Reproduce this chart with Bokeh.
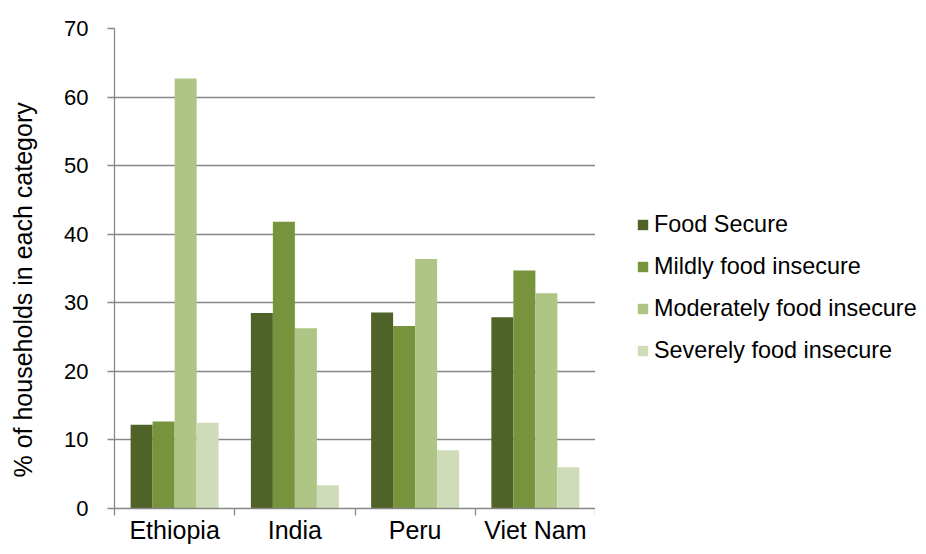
import math
from bokeh.plotting import figure
from bokeh.layouts import row
from bokeh.models import (ColumnDataSource, Range1d, FixedTicker, Legend,
                          LegendItem, Label)
from bokeh.transform import dodge
from bokeh.embed import file_html
from bokeh.resources import INLINE

countries = ["Ethiopia", "India", "Peru", "Viet Nam"]
series_names = ["Food Secure", "Mildly food insecure",
                "Moderately food insecure", "Severely food insecure"]
food_secure = [12.2, 28.5, 28.6, 27.9]
mildly = [12.7, 41.8, 26.6, 34.7]
moderately = [62.7, 26.3, 36.4, 31.4]
severely = [12.5, 3.4, 8.5, 6.0]
y_ticks = [0, 10, 20, 30, 40, 50, 60, 70]
y_title = "% of households in each category"

colors = ["#4F6228", "#77933C", "#AEC585", "#CFDCB9"]
FONT = "Liberation Sans"
GRID = "#878787"
H = 546
TW = 44  # width of the y-title strip

centers = [i + 0.5 for i in range(len(countries))]
source = ColumnDataSource(dict(x=centers, fs=food_secure, mi=mildly,
                               mo=moderately, se=severely))

p = figure(width=595 - TW, height=H, x_range=Range1d(0, len(countries)),
           y_range=Range1d(0, 70), output_backend="svg",
           toolbar_location=None, min_border_left=114 - TW, min_border_right=0,
           min_border_top=28, min_border_bottom=36)
p.outline_line_color = None
p.background_fill_color = "white"

bw = 0.183
offsets = [-1.5 * bw, -0.5 * bw, 0.5 * bw, 1.5 * bw]
fields = ["fs", "mi", "mo", "se"]
for f, off, c in zip(fields, offsets, colors):
    p.vbar(x=dodge("x", off), top=f, width=bw, bottom=0, source=source,
           fill_color=c, line_color=None)

# Axes
p.xgrid.grid_line_color = None
p.ygrid.grid_line_color = GRID
p.ygrid.grid_line_width = 1.3
p.ygrid.ticker = FixedTicker(ticks=y_ticks)

xa = p.xaxis[0]
xa.ticker = FixedTicker(ticks=centers, minor_ticks=list(range(len(countries) + 1)))
xa.major_label_overrides = {c: n for c, n in zip(centers, countries)}
xa.major_tick_out = 0
xa.major_tick_in = 0
xa.minor_tick_out = 7
xa.minor_tick_in = 0
xa.minor_tick_line_color = GRID
xa.minor_tick_line_width = 1.3
xa.axis_line_color = GRID
xa.axis_line_width = 1.3
xa.major_label_text_font = FONT
xa.major_label_text_font_size = "25px"
xa.major_label_text_color = "black"
xa.major_label_standoff = 0

ya = p.yaxis[0]
ya.ticker = FixedTicker(ticks=y_ticks)
ya.major_tick_out = 7
ya.major_tick_in = 0
ya.minor_tick_out = 0
ya.minor_tick_in = 0
ya.major_tick_line_color = GRID
ya.major_tick_line_width = 1.3
ya.axis_line_color = GRID
ya.axis_line_width = 1.3
ya.major_label_text_font = FONT
ya.major_label_text_font_size = "22px"
ya.major_label_text_color = "black"
ya.major_label_standoff = 19

# Y-axis title strip
tf = figure(width=TW, height=H, output_backend="svg", toolbar_location=None,
            x_axis_type=None, y_axis_type=None, min_border=0,
            x_range=Range1d(0, 1), y_range=Range1d(0, 1))
tf.outline_line_color = None
tf.grid.grid_line_color = None
tf.add_layout(Label(text=y_title, x=22, y=31, x_units="screen",
                    y_units="screen", angle=math.pi / 2, text_align="left",
                    text_baseline="middle", text_font=FONT,
                    text_font_size="25px", text_color="black"))

# Legend panel
lg = figure(width=323, height=H, output_backend="svg",
            toolbar_location=None, x_axis_type=None, y_axis_type=None,
            min_border=0, x_range=Range1d(0, 1), y_range=Range1d(0, 1))
lg.outline_line_color = None
lg.grid.grid_line_color = None
items = []
for c, name in zip(colors, series_names):
    r = lg.vbar(x=[-5], top=[0], bottom=[0], width=1, fill_color=c,
                line_color=None)
    items.append(LegendItem(label=name, renderers=[r]))

legend = Legend(items=items, location=(41, 144), orientation="vertical",
                border_line_color=None, background_fill_alpha=0,
                padding=0, margin=0, spacing=15, glyph_width=13,
                glyph_height=13, label_height=27, label_standoff=5,
                label_text_font=FONT, label_text_font_size="23.4px",
                label_text_color="black")
lg.add_layout(legend, "center")

layout = row(tf, p, lg, spacing=0)
open("out.html", "w").write(file_html(layout, INLINE))
